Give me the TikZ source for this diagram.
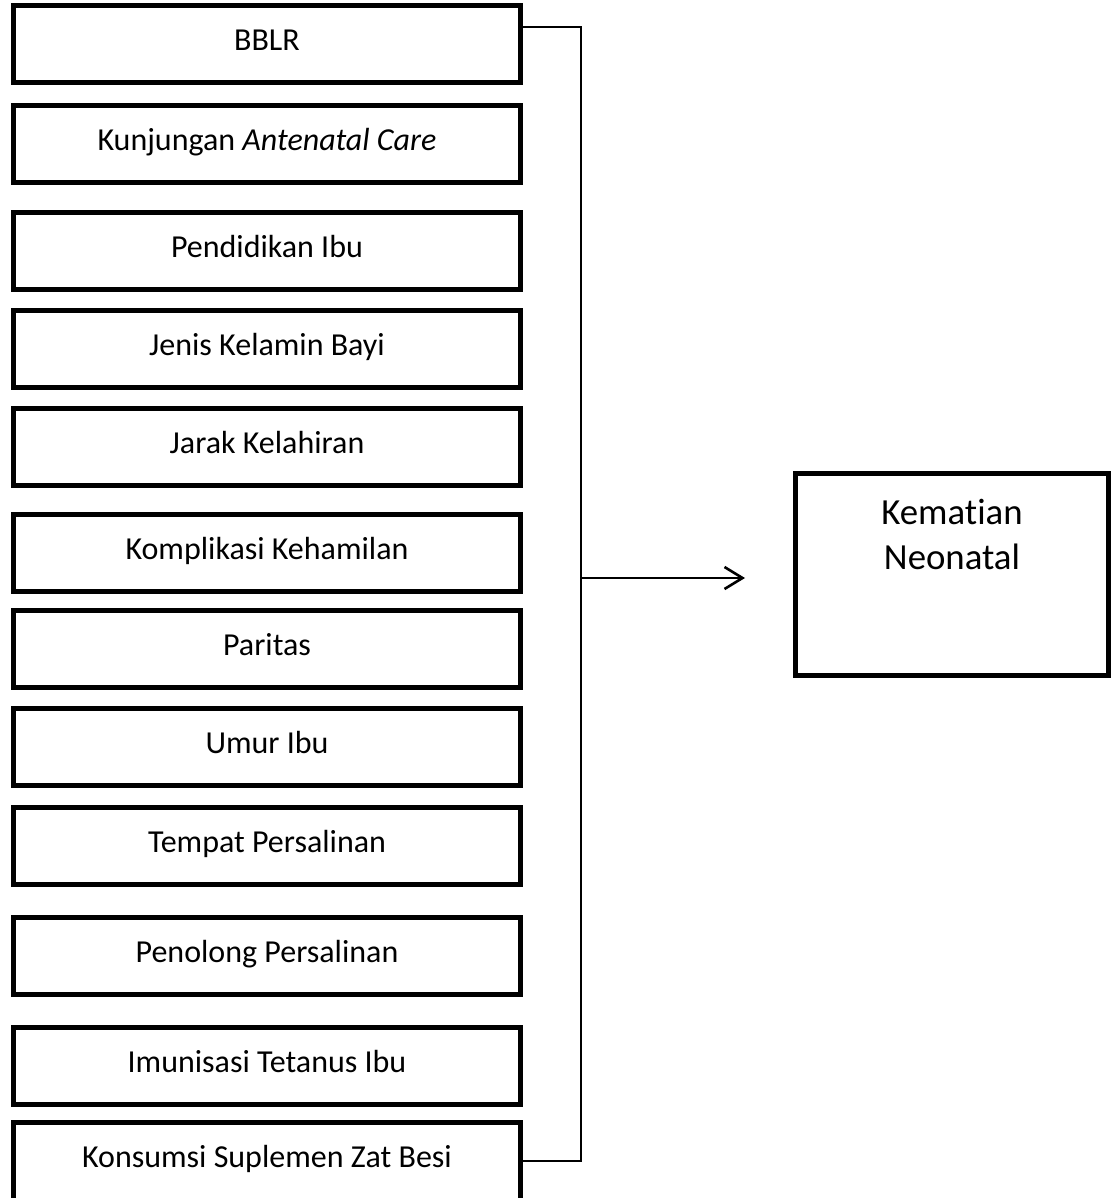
\documentclass[tikz,border=0pt]{standalone}
\usepackage{fontspec}
\setmainfont{Carlito}[RawFeature={-liga;-clig;-calt;-dlig}]
\usetikzlibrary{positioning, arrows.meta}

\begin{document}
\begin{tikzpicture}[x=1pt, y=1pt,
        factor/.style={draw, rectangle, line width=2.4pt, minimum width=253.6pt, minimum height=38.6pt, text height=11.3pt, text depth=5pt, inner sep=0pt, font=\fontsize{16}{19.5}\selectfont},
        outcome/.style={draw, rectangle, line width=2.4pt, minimum width=156.6pt, minimum height=101.1pt},
        link/.style={line width=1pt}]
        \useasboundingbox (0,0) rectangle (558,-599);
        \clip (0,0) rectangle (558,-599);

        % Independent variables
        \node (BBLR) [factor] at (133.5,-22) {BBLR};
        \node (ANC) [factor, below=9pt of BBLR] {Kunjungan \textit{Antenatal Care}};
        \node (Edu) [factor, below=12.5pt of ANC] {Pendidikan Ibu};
        \node (Sex) [factor, below=8pt of Edu] {Jenis Kelamin Bayi};
        \node (Spacing) [factor, below=8pt of Sex] {Jarak Kelahiran};
        \node (Compl) [factor, below=12pt of Spacing] {Komplikasi Kehamilan};
        \node (Parity) [factor, below=7pt of Compl] {Paritas};
        \node (Age) [factor, below=8pt of Parity] {Umur Ibu};
        \node (Place) [factor, below=8.5pt of Age] {Tempat Persalinan};
        \node (Helper) [factor, below=14pt of Place] {Penolong Persalinan};
        \node (Tetanus) [factor, below=14pt of Helper] {Imunisasi Tetanus Ibu};
        % last box runs off the page bottom
        \node (Iron) [factor, below=6.5pt of Tetanus, minimum height=46pt, text depth=12.4pt] {Konsumsi Suplemen Zat Besi};

        % Dependent variable
        \node (Death) [outcome] at (476,-287.25) {};
        \node (DeathText) [below=14pt of Death.north, align=center, inner sep=0pt, font=\fontsize{18.4}{22.5}\selectfont] {Kematian\\Neonatal};

        % Connectors
        \coordinate (Join) at (290.5,-289);
        \draw[link] ([yshift=8.5pt]BBLR.east) -| (Join) |- ([yshift=3.7pt]Iron.east);
        \draw[link, line width=1.3pt, -{Straight Barb[length=9pt, width=11pt]}, shorten >=24pt] (Join) -- (Join -| Death.west);
    \end{tikzpicture}
\end{document}
